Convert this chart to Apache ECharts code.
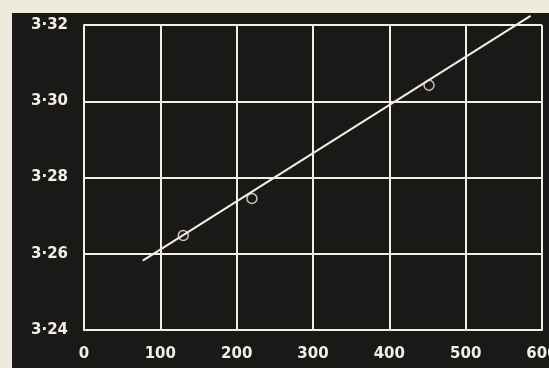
<!DOCTYPE html>
<html><head><meta charset="utf-8">
<script src="https://cdn.jsdelivr.net/npm/echarts@6/dist/echarts.min.js"></script>
<style>html,body{margin:0;padding:0;background:#efeadc;}#c{width:549px;height:368px;}</style>
</head><body><div id="c"></div>
<script>
var pointX = [130, 220, 452];
var pointY = [3.2648, 3.2745, 3.3042];
var fitX = [77, 585];
var fitY = [3.2582, 3.3224];
var xTicks = [0, 100, 200, 300, 400, 500, 600];
var yTicks = [3.24, 3.26, 3.28, 3.30, 3.32];

var chart = echarts.init(document.getElementById('c'));
var pts = pointX.map(function(x, i){ return [x, pointY[i]]; });
var fit = fitX.map(function(x, i){ return [x, fitY[i]]; });
var lblFont = {color:'#f2efe6', fontFamily:'DejaVu Sans', fontSize:15, fontWeight:'bold'};
chart.setOption({
  backgroundColor:'#efeadc',
  animation:false,
  graphic:[{type:'rect', z:-10, shape:{x:12,y:13,width:540,height:360}, style:{fill:'#1b1918'}}],
  grid:{left:84, right:7, top:25, bottom:38, containLabel:false, outerBoundsMode:'none'},
  xAxis:{type:'value', min:xTicks[0], max:xTicks[xTicks.length-1], interval:100,
    axisLine:{show:true, lineStyle:{color:'#f2efe6', width:2}},
    axisTick:{show:false},
    splitLine:{show:true, lineStyle:{color:'#f2efe6', width:2}},
    axisLabel:Object.assign({margin:17, formatter:function(v){return String(v);}}, lblFont)},
  yAxis:{type:'value', min:yTicks[0], max:yTicks[yTicks.length-1], interval:0.02,
    axisLine:{show:true, lineStyle:{color:'#f2efe6', width:2}},
    axisTick:{show:false},
    splitLine:{show:true, lineStyle:{color:'#f2efe6', width:2}},
    axisLabel:Object.assign({margin:16, formatter:function(v){return v.toFixed(2).replace('.', '\u00b7');}}, lblFont)},
  series:[
    {type:'line', data:fit, clip:false, showSymbol:false, symbol:'none',
      lineStyle:{color:'#f2efe6', width:2}, z:3},
    {type:'scatter', data:pts, symbol:'circle', symbolSize:10,
      itemStyle:{color:'rgba(0,0,0,0)', borderColor:'#f2efe6', borderWidth:1.5}, z:4}
  ]
});
</script></body></html>
